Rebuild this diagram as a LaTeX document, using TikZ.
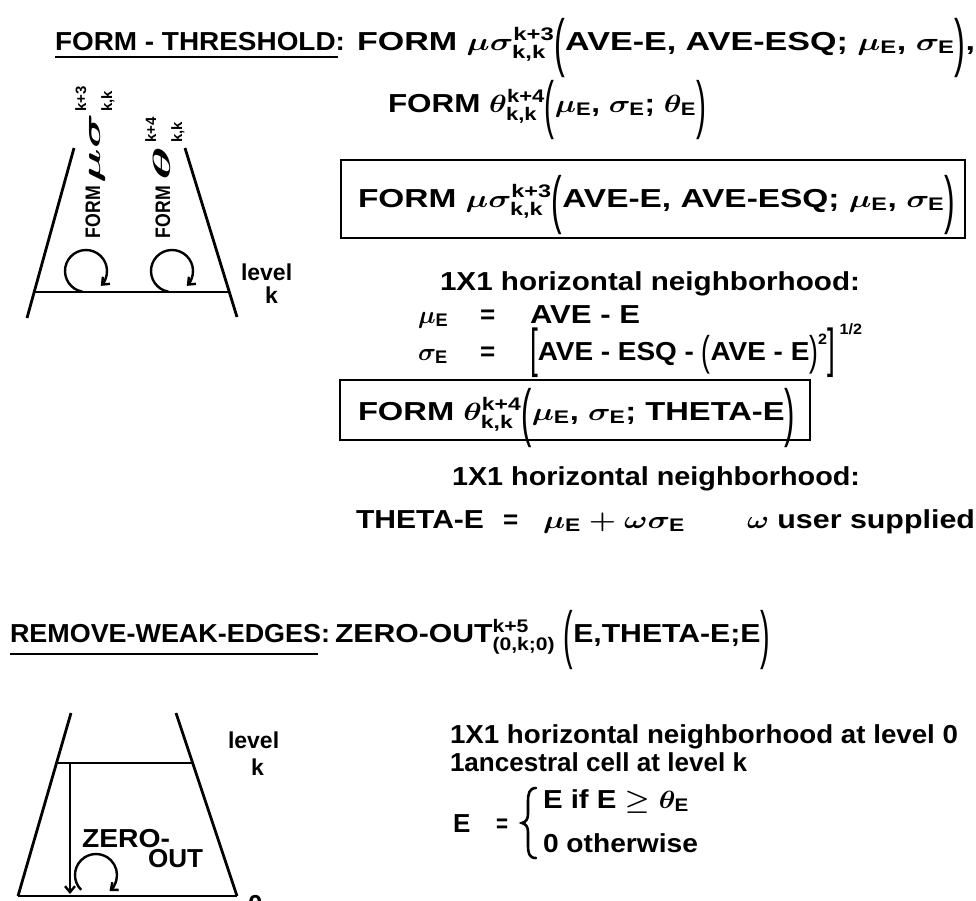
\documentclass[tikz,border=0pt]{standalone}
\usepackage{fontspec}
\usepackage{amsmath}
\usepackage{graphicx}
\setmainfont{Liberation Sans}
\usetikzlibrary{arrows.meta}
\newcommand\fitto[2]{\resizebox{#1}{\height}{#2}}
\newcommand\LP{\raisebox{-0.56em}{\scalebox{0.95}[2.45]{\mdseries(}}}
\newcommand\RP{\raisebox{-0.56em}{\scalebox{0.95}[2.45]{\mdseries)}}}
\newcommand\SLP{\raisebox{-0.2em}{\scalebox{0.95}[1.6]{\mdseries(}}}
\newcommand\SRP{\raisebox{-0.2em}{\scalebox{0.95}[1.6]{\mdseries)}}}
\newcommand\LB{\raisebox{-0.26em}{\scalebox{1.0}[2.05]{\mdseries[}}}
\newcommand\RB{\raisebox{-0.26em}{\scalebox{1.0}[2.05]{\mdseries]}}}
\newcommand\sE{_{\text{E}}}
\newcommand\scr[1]{{\fontsize{15}{15}\selectfont #1}}
\begin{document}
\begin{tikzpicture}[x=1pt,y=-1pt,
  txt/.style={inner sep=0pt, outer sep=0pt, anchor=base west, font=\fontsize{26}{30}\selectfont\bfseries\boldmath},
  rtxt/.style={txt, rotate=90, font=\fontsize{21}{24}\selectfont\bfseries\boldmath},
  ln/.style={line width=2.8pt},
  ul/.style={line width=2.6pt},
  bracest/.style={line width=2.6pt, line cap=round},
  boxst/.style={draw, line width=2.3pt, inner sep=0pt},
  arr/.style={line width=2.4pt, -{Straight Barb[length=6pt,width=10pt]}}]
\useasboundingbox (0,0) rectangle (976,900);

% ---------- FORM-THRESHOLD ----------
\node[txt] (h1) at (55,50) {\fitto{290pt}{FORM - THRESHOLD:}};
\coordinate (u1a) at (55,57); \coordinate (u1b) at (338,57);
\draw[ul] (u1a) -- (u1b);

\node[txt] (l1) at (357,50) {\fitto{618pt}{FORM $\mu\sigma^{\text{k+3}}_{\text{k,k}}$\LP AVE-E, AVE-ESQ; $\mu\sE$, $\sigma\sE$\RP,}};
\node[txt] (l2) at (388,112) {\fitto{318pt}{FORM $\theta^{\text{k+4}}_{\text{k,k}}$\LP$\mu\sE$, $\sigma\sE$; $\theta\sE$\RP}};

\node[boxst, minimum width=624pt, minimum height=78pt] (b1) at (653,199) {};
\node[txt] (b1t) at (358,207) {\fitto{597pt}{FORM $\mu\sigma^{\text{k+3}}_{\text{k,k}}$\LP AVE-E, AVE-ESQ; $\mu\sE$, $\sigma\sE$\RP}};

\node[txt] (n1) at (440,290) {\fitto{420pt}{1X1 horizontal neighborhood:}};
\node[txt] (mu) at (418,323) {$\mu\sE$};
\node[txt] (eq1) at (480,323) {=};
\node[txt] (rhs1) at (530,323) {\fitto{110pt}{AVE - E}};
\node[txt] (sg) at (418,360) {$\sigma\sE$};
\node[txt] (eq2) at (480,360) {=};
\node[txt] (rhs2) at (530,360) {\fitto{332pt}{\LB AVE - ESQ - \SLP AVE - E\SRP\raisebox{0.6em}{\scr{2}}\RB\,\raisebox{1.0em}{\scr{1/2}}}};

\node[boxst, minimum width=470pt, minimum height=60pt] (b2) at (575,410) {};
\node[txt] (b2t) at (358,420) {\fitto{437pt}{FORM $\theta^{\text{k+4}}_{\text{k,k}}$\LP$\mu\sE$, $\sigma\sE$; THETA-E\RP}};

\node[txt] (n2) at (452,485) {\fitto{408pt}{1X1 horizontal neighborhood:}};
\node[txt] (th1) at (356,528) {\fitto{128pt}{THETA-E}};
\node[txt] (eq3) at (503,528) {=};
\node[txt] (th2) at (543,528) {\fitto{142pt}{$\mu\sE+\omega\sigma\sE$}};
\node[txt] (us) at (747,528) {\fitto{228pt}{$\omega$ user supplied}};

% left top diagram
\coordinate (tl1) at (74,148); \coordinate (tl2) at (27,318);
\coordinate (tr1) at (185,148); \coordinate (tr2) at (237,317);
\coordinate (hl1) at (35,292); \coordinate (hl2) at (230,292);
\draw[ln] (tl1) -- (tl2);
\draw[ln] (tr1) -- (tr2);
\draw[ln] (hl1) -- (hl2);
\coordinate (c1) at (86,271); \coordinate (c2) at (172,271);
\draw[arr] (c1) ++(100:21) arc[start angle=100, end angle=405, radius=21];
\draw[arr] (c2) ++(100:21) arc[start angle=100, end angle=405, radius=21];
\node[rtxt] (rt1) at (100,238) {\fitto{52pt}{FORM}\hspace{3pt}\fitto{70pt}{\fontsize{27}{28}\selectfont$\mu\sigma$}\hspace{1pt}\rlap{\raisebox{14pt}{\scr{k+3}}}\raisebox{-12pt}{\scr{k,k}}};
\node[rtxt] (rt2) at (170,238) {\fitto{52pt}{FORM}\hspace{6pt}\fitto{34pt}{\fontsize{27}{28}\selectfont$\theta$}\hspace{3pt}\rlap{\raisebox{14pt}{\scr{k+4}}}\raisebox{-12pt}{\scr{k,k}}};
\node[txt, font=\fontsize{23}{26}\selectfont\bfseries] (lv1) at (241,280) {level};
\node[txt, font=\fontsize{23}{26}\selectfont\bfseries] (lk1) at (265,303) {k};

% ---------- REMOVE-WEAK-EDGES ----------
\node[txt] (h2) at (10,642) {\fitto{320pt}{REMOVE-WEAK-EDGES:}};
\coordinate (u2a) at (10,654); \coordinate (u2b) at (318,654);
\draw[ul] (u2a) -- (u2b);
\node[txt] (zo) at (335,642) {\fitto{435pt}{ZERO-OUT$^{\text{k+5}}_{\text{(0,k;0)}}$ \LP E,THETA-E;E\RP}};

\node[txt] (r1) at (450,743) {\fitto{508pt}{1X1 horizontal neighborhood at level 0}};
\node[txt] (r2) at (450,771) {\fitto{297pt}{1ancestral cell at level k}};
\node[txt] (e1) at (453,832) {E};
\node[txt] (e2) at (496,832) {\fitto{12pt}{=}};
% hand-drawn brace
\draw[bracest] (536,788) .. controls (529,788) and (528,794) .. (528,802) -- (528,814)
  .. controls (528,819) and (526,822) .. (522,823)
  .. controls (526,824) and (528,827) .. (528,832) -- (528,845)
  .. controls (528,853) and (529,858) .. (536,858);
\node[txt] (e3) at (543,808) {\fitto{146pt}{E if E $\geq\theta\sE$}};
\node[txt] (e4) at (543,852) {\fitto{155pt}{0 otherwise}};

% left bottom diagram
\coordinate (bl1) at (71,713); \coordinate (bl2) at (18,896);
\coordinate (br1) at (176,713); \coordinate (br2) at (237,896);
\coordinate (hk1) at (57,763); \coordinate (hk2) at (193,763);
\draw[ln] (bl1) -- (bl2);
\draw[ln] (br1) -- (br2);
\draw[ln] (hk1) -- (hk2);
\draw[ln] (bl2) -- (br2);
\coordinate (va1) at (70,763); \coordinate (va2) at (70,894);
\draw[arr] (va1) -- (va2);
\coordinate (c3) at (96,875);
\draw[arr] (c3) ++(135:21) arc[start angle=135, end angle=410, radius=21];
\node[txt] (zr1) at (82,847) {\fitto{88pt}{ZERO-}};
\node[txt] (zr2) at (148,867) {\fitto{55pt}{OUT}};
\node[txt, font=\fontsize{23}{26}\selectfont\bfseries] (lv2) at (228,748) {level};
\node[txt, font=\fontsize{23}{26}\selectfont\bfseries] (lk2) at (251,775) {k};
\node[txt] (z0) at (248,913) {0};
\end{tikzpicture}
\end{document}
